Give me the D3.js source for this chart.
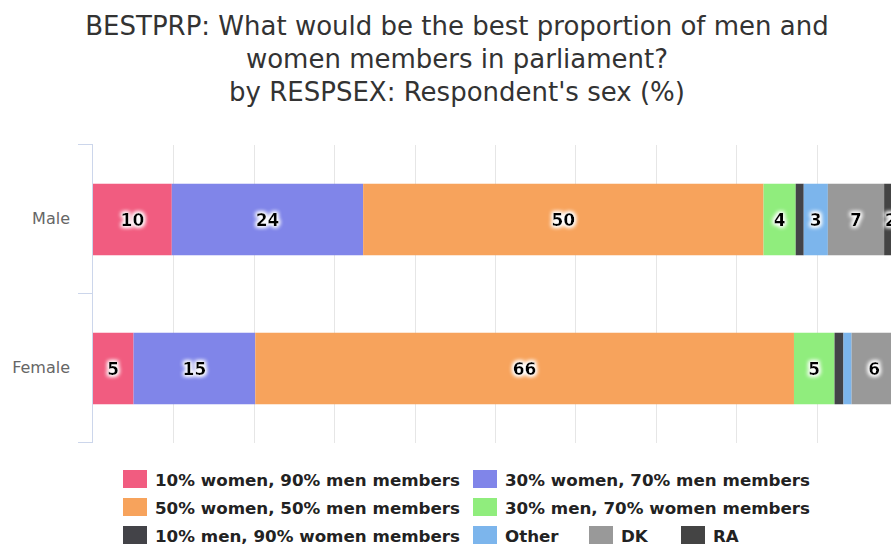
<!DOCTYPE html>
<html>
<head>
<meta charset="utf-8">
<script src="https://cdn.jsdelivr.net/npm/d3@7"></script>
<style>
    html, body { margin: 0; padding: 0; overflow: hidden; background: #fff; }
    svg { display: block; font-family: "DejaVu Sans", sans-serif; }
</style>
</head>
<body>
<div id="chart"></div>
<script>
// data (percent stacking, like the original)
var categories = ["Male", "Female"];
var seriesNames = ["10% women, 90% men members", "30% women, 70% men members",
    "50% women, 50% men members", "30% men, 70% women members",
    "10% men, 90% women members", "Other", "DK", "RA"];
var seriesColors = ["#f15c80", "#8085e9", "#f7a35c", "#90ed7d", "#434348", "#7cb5ec", "#999999", "#444444"];
var maleValues = [9.8, 23.8, 49.8, 4.0, 1.0, 3.0, 7.0, 1.6];
var femaleValues = [5.0, 15.0, 66.4, 5.0, 1.1, 1.0, 5.6, 0.0];
var titleLines = ["BESTPRP: What would be the best proportion of men and",
    "women members in parliament?",
    "by RESPSEX: Respondent's sex (%)"];
var gridTicks = [10, 20, 30, 40, 50, 60, 70, 80, 90, 100];

var W = 914, H = 545;
var m = {l: 93, r: 17, t: 145, b: 102};

var svg = d3.select("#chart").append("svg").attr("width", W).attr("height", H);

// white halo behind the data labels
var f = svg.append("defs").append("filter").attr("id", "halo")
    .attr("x", "-50%").attr("y", "-50%").attr("width", "200%").attr("height", "200%");
f.append("feMorphology").attr("in", "SourceAlpha").attr("operator", "dilate").attr("radius", 1).attr("result", "d");
f.append("feGaussianBlur").attr("in", "d").attr("stdDeviation", 2).attr("result", "b");
f.append("feFlood").attr("flood-color", "#fff");
f.append("feComposite").attr("in2", "b").attr("operator", "in").attr("result", "g");
var fm = f.append("feMerge");
fm.append("feMergeNode").attr("in", "g");
fm.append("feMergeNode").attr("in", "g");
fm.append("feMergeNode").attr("in", "SourceGraphic");

// title
svg.append("g").selectAll("text").data(titleLines).join("text")
    .attr("x", W / 2)
    .attr("y", (d, i) => 35 + i * 33)
    .attr("text-anchor", "middle")
    .style("font-size", "26px")
    .style("fill", "#333333")
    .text(d => d);

var x = d3.scaleLinear().domain([0, 100]).range([m.l, W - m.r]);
var yOuter = d3.scaleBand().domain(categories).range([m.t, H - m.b]);
var y = d3.scaleBand().domain(categories).range([m.t, H - m.b]).paddingInner(0.52).paddingOuter(0.26);

// grid
svg.append("g").selectAll("line").data(gridTicks).join("line")
    .attr("x1", d => Math.round(x(d)) + 0.5).attr("x2", d => Math.round(x(d)) + 0.5)
    .attr("y1", m.t).attr("y2", H - m.b)
    .attr("stroke", "#e6e6e6");

// stacked rows
var rows = [maleValues, femaleValues].map(function(vals, ci) {
    var tot = d3.sum(vals), acc = 0;
    return vals.map(function(v, si) {
        var p0 = acc / tot * 100;
        acc += v;
        return {cat: categories[ci], s: si, v: v, p0: p0, p1: acc / tot * 100};
    });
});
var segs = d3.merge(rows);

svg.append("g").selectAll("rect").data(segs.filter(d => d.v > 0)).join("rect")
    .attr("x", d => x(d.p0))
    .attr("y", d => y(d.cat))
    .attr("width", d => x(d.p1) - x(d.p0))
    .attr("height", y.bandwidth())
    .attr("fill", d => seriesColors[d.s]);

svg.append("g").selectAll("text").data(segs.filter(d => d.v >= 1.5)).join("text")
    .attr("x", d => (x(d.p0) + x(d.p1)) / 2)
    .attr("y", d => y(d.cat) + y.bandwidth() / 2)
    .attr("dy", "0.36em")
    .attr("text-anchor", "middle")
    .attr("filter", "url(#halo)")
    .style("font-size", "17px")
    .style("font-weight", "bold")
    .style("fill", "#000")
    .text(d => d3.format(".0f")(d.v));

// category axis
var ax = svg.append("g");
ax.append("line")
    .attr("x1", m.l - 0.5).attr("x2", m.l - 0.5)
    .attr("y1", m.t).attr("y2", H - m.b)
    .attr("stroke", "#ccd6eb");
var bounds = categories.map(c => yOuter(c)).concat([H - m.b]);
ax.selectAll(".tick").data(bounds).join("line")
    .attr("class", "tick")
    .attr("x1", m.l - 15).attr("x2", m.l)
    .attr("y1", d => Math.round(d) - 0.5).attr("y2", d => Math.round(d) - 0.5)
    .attr("stroke", "#ccd6eb");
ax.selectAll(".lab").data(categories).join("text")
    .attr("class", "lab")
    .attr("x", m.l - 23)
    .attr("y", d => yOuter(d) + yOuter.bandwidth() / 2 - 1)
    .attr("dy", "0.36em")
    .attr("text-anchor", "end")
    .style("font-size", "16px")
    .style("fill", "#666666")
    .text(d => d);

// legend
var legendX = [123, 473, 123, 473, 123, 473, 589, 681];
var legendRow = [0, 0, 1, 1, 2, 2, 2, 2];
var lg = svg.append("g").selectAll("g").data(seriesNames).join("g")
    .attr("transform", (d, i) => "translate(" + legendX[i] + "," + (470 + legendRow[i] * 28) + ")");
lg.append("rect")
    .attr("width", 24).attr("height", 18)
    .attr("fill", (d, i) => seriesColors[i]);
lg.append("text")
    .attr("x", 32).attr("y", 15.5)
    .style("font-size", "16.7px")
    .style("font-weight", "bold")
    .style("fill", "#222222")
    .text(d => d);
</script>
</body>
</html>
